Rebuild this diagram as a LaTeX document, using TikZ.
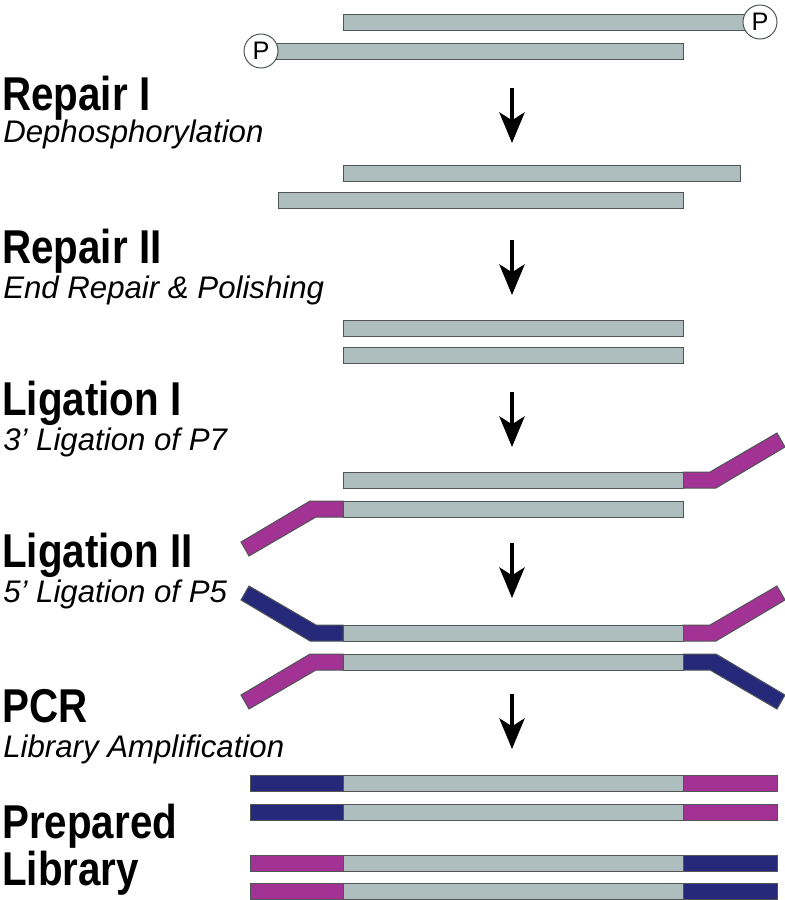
\documentclass[tikz,border=0pt]{standalone}
\usepackage{fontspec}
\setmainfont{Liberation Sans}
\newfontfamily\headfont[FakeStretch=0.85]{Liberation Sans}
\usetikzlibrary{arrows.meta}
\definecolor{dnagray}{RGB}{174,190,190}
\definecolor{edgegray}{RGB}{80,85,85}
\definecolor{pfive}{RGB}{38,40,122}
\definecolor{pseven}{RGB}{162,50,148}
\tikzset{
  strand/.style={fill=dnagray, draw=edgegray, line width=0.75pt},
  pfv/.style={fill=pfive, draw=edgegray, line width=0.75pt},
  psv/.style={fill=pseven, draw=edgegray, line width=0.75pt},
  heading/.style={anchor=base west, inner sep=0pt, font=\headfont\bfseries\fontsize{35.6}{40}\selectfont},
  subhead/.style={anchor=base west, inner sep=0pt, font=\itshape\fontsize{23.4}{27}\selectfont},
  steparrow/.style={line width=2.5pt, -{Stealth[length=23pt,width=19pt,inset=6pt]}},
  phos/.style={circle, draw=edgegray, fill=white, line width=0.75pt, minimum size=25.5pt, inner sep=0pt, font=\fontsize{19}{19}\selectfont},
}
\newcommand\dnabar[4]{\path[#1] (#2,#4) rectangle (#3,#4+16);}
\newcommand\adaptor[5]{%
  \begin{scope}[shift={(#2,#3)}, xscale=#4, yscale=#5]
    \path[#1] (0,-8) -- (27,-8) -- (94,-47) -- (102,-33) -- (33,8) -- (0,8) -- cycle;
  \end{scope}}
\begin{document}
\begin{tikzpicture}[x=0.75pt,y=-0.75pt]
\useasboundingbox (0,0) rectangle (785,900);
\fill[white] (0,0) rectangle (785,900);

% headings
\node[heading] (h1) at (2,110) {Repair I};
\node[subhead] (s1) at (3,142) {Dephosphorylation};
\node[heading] (h2) at (2,263) {Repair II};
\node[subhead] (s2) at (3,298) {End Repair \& Polishing};
\node[heading] (h3) at (2,415) {Ligation I};
\node[subhead] (s3) at (3,450) {3’ Ligation of P7};
\node[heading] (h4) at (2,567) {Ligation II};
\node[subhead] (s4) at (3,602) {5’ Ligation of P5};
\node[heading] (h5) at (2,722) {PCR};
\node[subhead] (s5) at (3,757) {Library Amplification};
\node[heading] (h6) at (2,838) {Prepared};
\node[heading] (h7) at (2,885) {Library};

% step 0: phosphorylated
\dnabar{strand}{343}{745}{14}
\dnabar{strand}{270}{683}{43}
\node[phos] (p1) at (760,22) {P};
\node[phos] (p2) at (261,51) {P};

% after repair I
\dnabar{strand}{343}{740}{165}
\dnabar{strand}{278}{683}{192}

% after repair II
\dnabar{strand}{343}{683}{320}
\dnabar{strand}{343}{683}{347}

% ligation I
\adaptor{psv}{683}{480}{1}{1}
\dnabar{strand}{343}{683}{472}
\adaptor{psv}{343}{509}{-1}{-1}
\dnabar{strand}{343}{683}{501}

% ligation II
\adaptor{pfv}{343}{633}{-1}{1}
\adaptor{psv}{683}{633}{1}{1}
\dnabar{strand}{343}{683}{625}
\adaptor{psv}{343}{662}{-1}{-1}
\adaptor{pfv}{683}{662}{1}{-1}
\dnabar{strand}{343}{683}{654}

% PCR
\dnabar{pfv}{250}{343}{775}
\dnabar{strand}{343}{683}{775}
\dnabar{psv}{683}{777}{775}
\dnabar{pfv}{250}{343}{804}
\dnabar{strand}{343}{683}{804}
\dnabar{psv}{683}{777}{804}

% library
\dnabar{psv}{250}{343}{855}
\dnabar{strand}{343}{683}{855}
\dnabar{pfv}{683}{777}{855}
\dnabar{psv}{250}{343}{883}
\dnabar{strand}{343}{683}{883}
\dnabar{pfv}{683}{777}{883}

% arrows
\coordinate (a1s) at (512,88);  \coordinate (a1e) at (512,143);
\coordinate (a2s) at (512,240); \coordinate (a2e) at (512,295);
\coordinate (a3s) at (512,392); \coordinate (a3e) at (512,447);
\coordinate (a4s) at (512,543); \coordinate (a4e) at (512,598);
\coordinate (a5s) at (512,694); \coordinate (a5e) at (512,749);
\draw[steparrow] (a1s) -- (a1e);
\draw[steparrow] (a2s) -- (a2e);
\draw[steparrow] (a3s) -- (a3e);
\draw[steparrow] (a4s) -- (a4e);
\draw[steparrow] (a5s) -- (a5e);
\end{tikzpicture}
\end{document}
